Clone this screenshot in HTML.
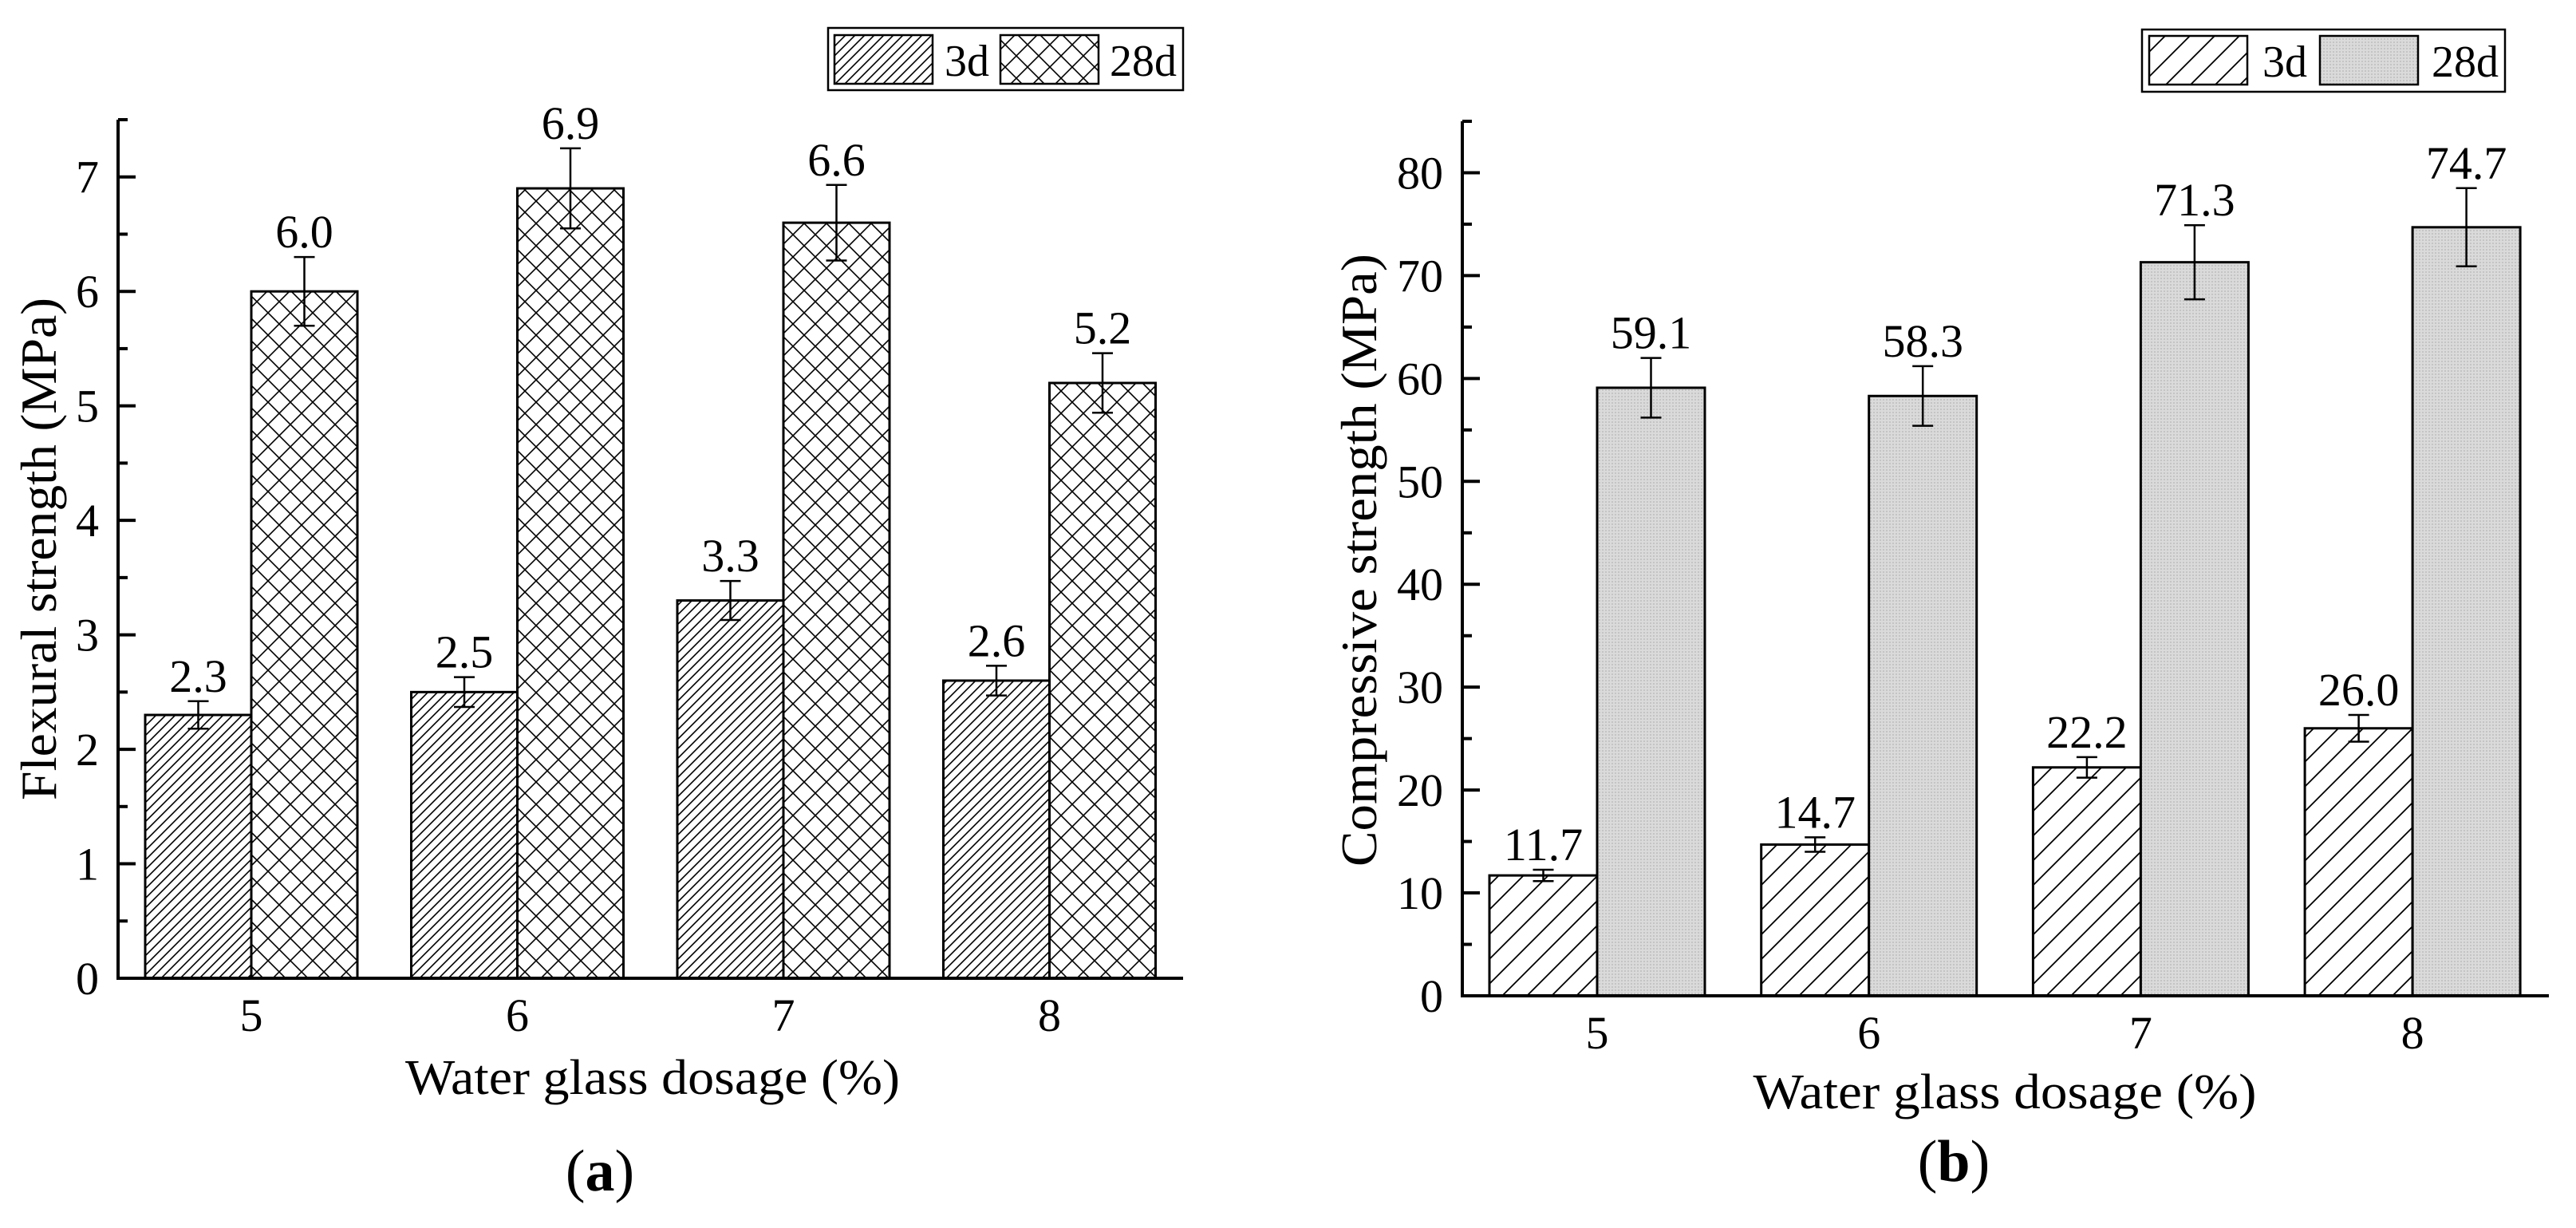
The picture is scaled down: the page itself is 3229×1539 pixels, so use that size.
<!DOCTYPE html>
<html><head><meta charset="utf-8"><style>
html,body{margin:0;padding:0;background:#fff;}
svg{display:block;font-family:"Liberation Serif",serif;}
</style></head><body>
<svg id="fig" width="3229" height="1539" viewBox="0 0 3229 1539" xmlns="http://www.w3.org/2000/svg">
<defs>
<pattern id="hatchA" patternUnits="userSpaceOnUse" width="12" height="12"><path d="M-3,3 L3,-3 M0,12 L12,0 M9,15 L15,9" stroke="#000" stroke-width="1.6"/></pattern>
<pattern id="crossA" patternUnits="userSpaceOnUse" width="28" height="28"><path d="M0,0 L28,28 M28,0 L0,28" stroke="#000" stroke-width="1.6"/></pattern>
<pattern id="hatchB" patternUnits="userSpaceOnUse" width="31" height="31"><path d="M-5,5 L5,-5 M0,31 L31,0 M26,36 L36,26" stroke="#000" stroke-width="1.8"/></pattern>
<pattern id="grayB" patternUnits="userSpaceOnUse" width="4" height="4"><rect width="4" height="4" fill="#dadada"/><rect width="2" height="2" fill="#c4c4c4"/></pattern>
</defs>
<g id="panelA"></g>
<g id="panelB"></g>
</svg>
<script>
const categories = ["5","6","7","8"];
const flex3d = [2.3, 2.5, 3.3, 2.6];
const flex3dErr = [0.12, 0.13, 0.17, 0.13];
const flex28d = [6.0, 6.9, 6.6, 5.2];
const flex28dErr = [0.30, 0.35, 0.33, 0.26];
const flexTicks = [0,1,2,3,4,5,6,7];
const comp3d = [11.7, 14.7, 22.2, 26.0];
const comp3dErr = [0.55, 0.7, 1.0, 1.3];
const comp28d = [59.1, 58.3, 71.3, 74.7];
const comp28dErr = [2.9, 2.9, 3.6, 3.8];
const compTicks = [0,10,20,30,40,50,60,70,80];

const NS="http://www.w3.org/2000/svg";
function mk(parent,tag,attrs,text){const e=document.createElementNS(NS,tag);for(const k in attrs)e.setAttribute(k,attrs[k]);if(text!==undefined)e.textContent=text;parent.appendChild(e);return e;}

function drawPanel(g,cfg){
  const yScale=v=>cfg.y0-(v-cfg.vmin)*(cfg.y0-cfg.yTop)/(cfg.vmax-cfg.vmin);
  const xScale=i=>cfg.xFirst+i*cfg.xStep;
  const series=[{vals:cfg.s1,err:cfg.e1,fill:cfg.f1,off:-1,name:'3d'},{vals:cfg.s2,err:cfg.e2,fill:cfg.f2,off:0,name:'28d'}];
  series.forEach(s=>{
    s.vals.forEach((v,i)=>{
      const x=xScale(i)+s.off*cfg.bw, y=yScale(v);
      const r=mk(g,'rect',{x:x,y:y,width:cfg.bw,height:cfg.y0-y,fill:s.fill,stroke:'#000','stroke-width':3});
      
      
      const cx=x+cfg.bw/2, yt=yScale(v+s.err[i]), yb=yScale(v-s.err[i]);
      const eb=mk(g,'path',{d:`M${cx},${yt}V${yb}M${cx-13},${yt}H${cx+13}M${cx-13},${yb}H${cx+13}`,stroke:'#000','stroke-width':2.5,fill:'none'});
      
      
      const lb=mk(g,'text',{x:cx,y:yt-12,'font-size':58,'text-anchor':'middle'},v.toFixed(1));
      
      
    });
  });
  const ya=mk(g,'path',{d:`M${cfg.ax},${cfg.yTop}V${cfg.y0}`,stroke:'#000','stroke-width':4,fill:'none'});
  
  
  const xa=mk(g,'path',{d:`M${cfg.ax-2},${cfg.y0}H${cfg.xEnd}`,stroke:'#000','stroke-width':4,fill:'none'});
  
  
  mk(g,'path',{d:`M${cfg.ax},${cfg.yTop}h12`,stroke:'#000','stroke-width':4});
  cfg.ticks.forEach(t=>{
    const y=yScale(t);
    if(t>0) mk(g,'path',{d:`M${cfg.ax},${y}h22`,stroke:'#000','stroke-width':4});
    const ym=yScale(t+cfg.minor);
    if(t+cfg.minor<cfg.vmax) mk(g,'path',{d:`M${cfg.ax},${ym}h12`,stroke:'#000','stroke-width':4});
    const tl=mk(g,'text',{x:cfg.labRight,y:y+20,'font-size':58,'text-anchor':'end'},String(t));
    
    
  });
  categories.forEach((c,i)=>{
    const tl=mk(g,'text',{x:xScale(i),y:cfg.xLabY,'font-size':58,'text-anchor':'middle'},c);
    
    
  });
  const xt=mk(g,'text',{x:cfg.xtX,y:cfg.xtY,'font-size':62,'text-anchor':'middle',textLength:cfg.xtLen,lengthAdjust:'spacingAndGlyphs'},'Water glass dosage (%)');
  
  
  const yt=mk(g,'text',{x:0,y:0,'font-size':64,'text-anchor':'middle',textLength:cfg.ytLen,lengthAdjust:'spacingAndGlyphs',transform:`translate(${cfg.ytX},${cfg.ytY}) rotate(-90)`},cfg.yTitle);
  
  
  const L=cfg.leg;
  const lg=mk(g,'g',{});
  
  
  mk(lg,'rect',{x:L.x,y:L.y,width:L.w,height:L.h,fill:'#fff',stroke:'#000','stroke-width':2.5});
  mk(lg,'rect',{x:L.s1,y:L.sy,width:L.sw,height:L.sh,fill:cfg.f1,stroke:'#000','stroke-width':2.5});
  mk(lg,'text',{x:L.t1,y:L.ty,'font-size':56},'3d');
  mk(lg,'rect',{x:L.s2,y:L.sy,width:L.sw,height:L.sh,fill:cfg.f2,stroke:'#000','stroke-width':2.5});
  mk(lg,'text',{x:L.t2,y:L.ty,'font-size':56},'28d');
  const pl=mk(g,'text',{x:cfg.plX,y:cfg.plY,'font-size':74,'text-anchor':'middle'});
  
  
  mk(pl,'tspan',{},'(');
  mk(pl,'tspan',{'font-weight':'bold'},cfg.letter);
  mk(pl,'tspan',{},')');
}

drawPanel(document.getElementById('panelA'),{
  vmin:0,vmax:7.5,y0:1226,yTop:150,ax:148,xEnd:1483,xFirst:315,xStep:333.5,bw:133,
  s1:flex3d,e1:flex3dErr,s2:flex28d,e2:flex28dErr,f1:'url(#hatchA)',f2:'url(#crossA)',
  ticks:flexTicks,minor:0.5,labRight:124,xLabY:1292,xtX:818,xtY:1371,xtLen:620,
  ytX:70,ytY:688,ytLen:630,yTitle:'Flexural strength (MPa)',
  leg:{x:1038,y:35,w:445,h:78,s1:1046,s2:1254,sw:123,sy:44,sh:61,t1:1184,t2:1391,ty:95},
  plX:752,plY:1492,letter:'a'});

drawPanel(document.getElementById('panelB'),{
  vmin:0,vmax:85,y0:1248,yTop:152,ax:1833,xEnd:3195,xFirst:2002,xStep:340.7,bw:135,
  s1:comp3d,e1:comp3dErr,s2:comp28d,e2:comp28dErr,f1:'url(#hatchB)',f2:'url(#grayB)',
  ticks:compTicks,minor:5,labRight:1809,xLabY:1314,xtX:2513,xtY:1389,xtLen:631,
  ytX:1725,ytY:702,ytLen:768,yTitle:'Compressive strength (MPa)',
  leg:{x:2685,y:37,w:455,h:78,s1:2694,s2:2908,sw:123,sy:45,sh:61,t1:2836,t2:3048,ty:96},
  plX:2449,plY:1480,letter:'b'});
</script>
</body></html>
